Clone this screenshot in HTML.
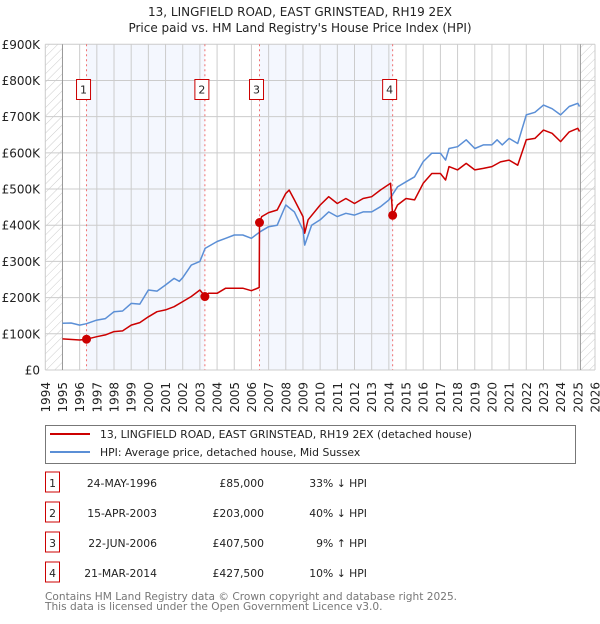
<!DOCTYPE html>
<html><head><meta charset="utf-8"><style>
body{margin:0;background:#fff;font-family:"DejaVu Sans","Liberation Sans",sans-serif;}
svg text{font-family:"DejaVu Sans","Liberation Sans",sans-serif;}
</style></head><body>
<svg id="c" width="600" height="620" xmlns="http://www.w3.org/2000/svg">
<defs><pattern id="h" width="6" height="6" patternUnits="userSpaceOnUse" patternTransform="rotate(45)"><line x1="0" y1="0" x2="0" y2="6" stroke="#ccc" stroke-width="1"/></pattern></defs>
<text x="300" y="16" text-anchor="middle" font-size="12" fill="#222">13, LINGFIELD ROAD, EAST GRINSTEAD, RH19 2EX</text>
<text x="300" y="32" text-anchor="middle" font-size="12" fill="#222">Price paid vs. HM Land Registry's House Price Index (HPI)</text>
<g id="plot"></g>
<g>
<rect x="45.5" y="425.5" width="530" height="38" fill="#fff" stroke="#777"/>
<line x1="50" y1="434" x2="90" y2="434" stroke="#cc0000" stroke-width="2"/>
<text x="100" y="438" font-size="10.8" fill="#222">13, LINGFIELD ROAD, EAST GRINSTEAD, RH19 2EX (detached house)</text>
<line x1="50" y1="452" x2="90" y2="452" stroke="#5b8fd6" stroke-width="2"/>
<text x="100" y="456" font-size="10.8" fill="#222">HPI: Average price, detached house, Mid Sussex</text>
</g>
<g id="tbl" font-size="10.8" fill="#222"></g>
<text x="45" y="600" font-size="10.6" fill="#777">Contains HM Land Registry data © Crown copyright and database right 2025.</text>
<text x="45" y="610" font-size="10.6" fill="#777">This data is licensed under the Open Government Licence v3.0.</text>
</svg>
<script>
const years=[1994,1995,1996,1997,1998,1999,2000,2001,2002,2003,2004,2005,2006,2007,2008,2009,2010,2011,2012,2013,2014,2015,2016,2017,2018,2019,2020,2021,2022,2023,2024,2025,2026];
const yTicks=[0,100,200,300,400,500,600,700,800,900];
const yTickLabels=["£0","£100K","£200K","£300K","£400K","£500K","£600K","£700K","£800K","£900K"];
const hpiT=[1995,1995.5,1996,1996.4,1997,1997.5,1998,1998.5,1999,1999.5,2000,2000.5,2001,2001.5,2001.8,2002,2002.5,2003,2003.3,2004,2004.5,2005,2005.5,2006,2006.5,2007,2007.5,2008,2008.5,2009,2009.1,2009.5,2010,2010.5,2011,2011.5,2012,2012.5,2013,2013.5,2014,2014.5,2015,2015.5,2016,2016.5,2017,2017.3,2017.5,2018,2018.5,2019,2019.5,2020,2020.3,2020.6,2021,2021.5,2022,2022.5,2023,2023.5,2024,2024.5,2025,2025.1];
const hpiV=[129,130,124,128,138,142,161,163,184,182,221,218,235,253,245,255,290,300,336,355,364,373,373,364,382,396,400,456,437,387,345,400,415,437,424,433,428,437,437,451,470,506,520,534,576,599,599,580,612,617,636,612,622,622,636,622,640,626,705,712,732,722,705,728,737,728];
const priceT=[1995,1996,1996.4,1997,1997.5,1998,1998.5,1999,1999.5,2000,2000.5,2001,2001.5,2002,2002.5,2003,2003.3,2003.5,2004,2004.5,2005,2005.5,2006,2006.45,2006.47,2006.6,2007,2007.5,2008,2008.2,2008.5,2009,2009.1,2009.3,2010,2010.5,2011,2011.5,2012,2012.5,2013,2013.5,2014.1,2014.22,2014.5,2015,2015.5,2016,2016.5,2017,2017.3,2017.5,2018,2018.5,2019,2019.5,2020,2020.5,2021,2021.5,2022,2022.5,2023,2023.5,2024,2024.5,2025,2025.1];
const priceV=[86,83,85,92,97,106,108,124,131,147,161,166,175,189,203,221,203,212,212,226,226,226,219,228,407.5,424,435,442,488,497,470,424,378,415,456,479,460,474,460,474,479,497,516,427.5,456,474,470,516,543,543,525,562,553,571,553,557,562,575,580,566,636,640,663,654,631,658,668,659];
const saleT=[1996.4,2003.29,2006.47,2014.22];
const saleV=[85,203,407.5,427.5];
const saleLabels=["1","2","3","4"];
const saleDates=["24-MAY-1996","15-APR-2003","22-JUN-2006","21-MAR-2014"];
const salePrices=["£85,000","£203,000","£407,500","£427,500"];
const saleHpi=["33% ↓ HPI","40% ↓ HPI","9% ↑ HPI","10% ↓ HPI"];

const NS="http://www.w3.org/2000/svg";
const L=45.3,R=595,T=44.3,B=370;
const X=t=>L+(t-1994)/(2026-1994)*(R-L);
const Y=v=>B-v/900*(B-T);
const g=document.getElementById('plot');
function mk(tag,a,parent){const e=document.createElementNS(NS,tag);for(const k in a)e.setAttribute(k,a[k]);(parent||g).appendChild(e);return e;}
for(let i=0;i<saleT.length;i+=2){
  const r=mk('rect',{x:X(saleT[i]),y:T,width:X(saleT[i+1])-X(saleT[i]),height:B-T,fill:'#f4f7fe'});
  
  
}
const h1=mk('rect',{x:L,y:T,width:X(1995)-L,height:B-T,fill:'url(#h)'});


const h2=mk('rect',{x:X(2025.15),y:T,width:R-X(2025.15),height:B-T,fill:'url(#h)'});


years.forEach((yr,i)=>{
  const ln=mk('line',{x1:X(yr),x2:X(yr),y1:T,y2:B,stroke:'#ccc','stroke-width':1});
  
  
  const tx=mk('text',{x:0,y:0,transform:`translate(${X(yr)+4.5},382) rotate(-90)`,'text-anchor':'end','font-size':12,fill:'#222'});
  tx.textContent=yr;
  
  
});
yTicks.forEach((v,i)=>{
  const ln=mk('line',{x1:L,x2:R,y1:Y(v),y2:Y(v),stroke:'#ccc','stroke-width':1});
  
  
  const tx=mk('text',{x:40,y:Y(v)+4.5,'text-anchor':'end','font-size':12,fill:'#222'});
  tx.textContent=yTickLabels[i];
  
  
});
const ax1=mk('line',{x1:X(1995),x2:X(1995),y1:T,y2:B,stroke:'#999'});


const ax2=mk('line',{x1:X(2025.15),x2:X(2025.15),y1:T,y2:B,stroke:'#999'});


saleT.forEach((t,i)=>{
  const ln=mk('line',{x1:X(t),x2:X(t),y1:T,y2:B,stroke:'#f07070','stroke-dasharray':'2,3'});
  
  
  const bx=mk('rect',{x:X(t)-10,y:79.5,width:14,height:20,fill:'#fff',stroke:'#cc0000'});
  
  
  const tx=mk('text',{x:X(t)-3,y:93.5,'text-anchor':'middle','font-size':11,fill:'#222'});
  tx.textContent=saleLabels[i];
  
  
});
const pts=(ts,vs)=>ts.map((t,i)=>X(t).toFixed(1)+','+Y(vs[i]).toFixed(1)).join(' ');
const hl=mk('polyline',{points:pts(hpiT,hpiV),fill:'none',stroke:'#5b8fd6','stroke-width':1.5,'stroke-linejoin':'round'});


const pl=mk('polyline',{points:pts(priceT,priceV),fill:'none',stroke:'#cc0000','stroke-width':1.5,'stroke-linejoin':'round'});


saleT.forEach((t,i)=>{
  const c=mk('circle',{cx:X(t),cy:Y(saleV[i]),r:4.5,fill:'#cc0000'});
  
  
});
const tb=document.getElementById('tbl');
saleT.forEach((t,i)=>{
  const y=483+i*30;
  const bx=mk('rect',{x:45.5,y:y-11,width:14,height:20,fill:'#fff',stroke:'#cc0000'},tb);
  
  
  const cells=[[52.5,'middle',saleLabels[i]],[157,'end',saleDates[i]],[264,'end',salePrices[i]],[367,'end',saleHpi[i]]];
  cells.forEach(c=>{
    const tx=mk('text',{x:c[0],y:y+4,'text-anchor':c[1]},tb);
    tx.textContent=c[2];
    
    
  });
});
</script>
</body></html>
